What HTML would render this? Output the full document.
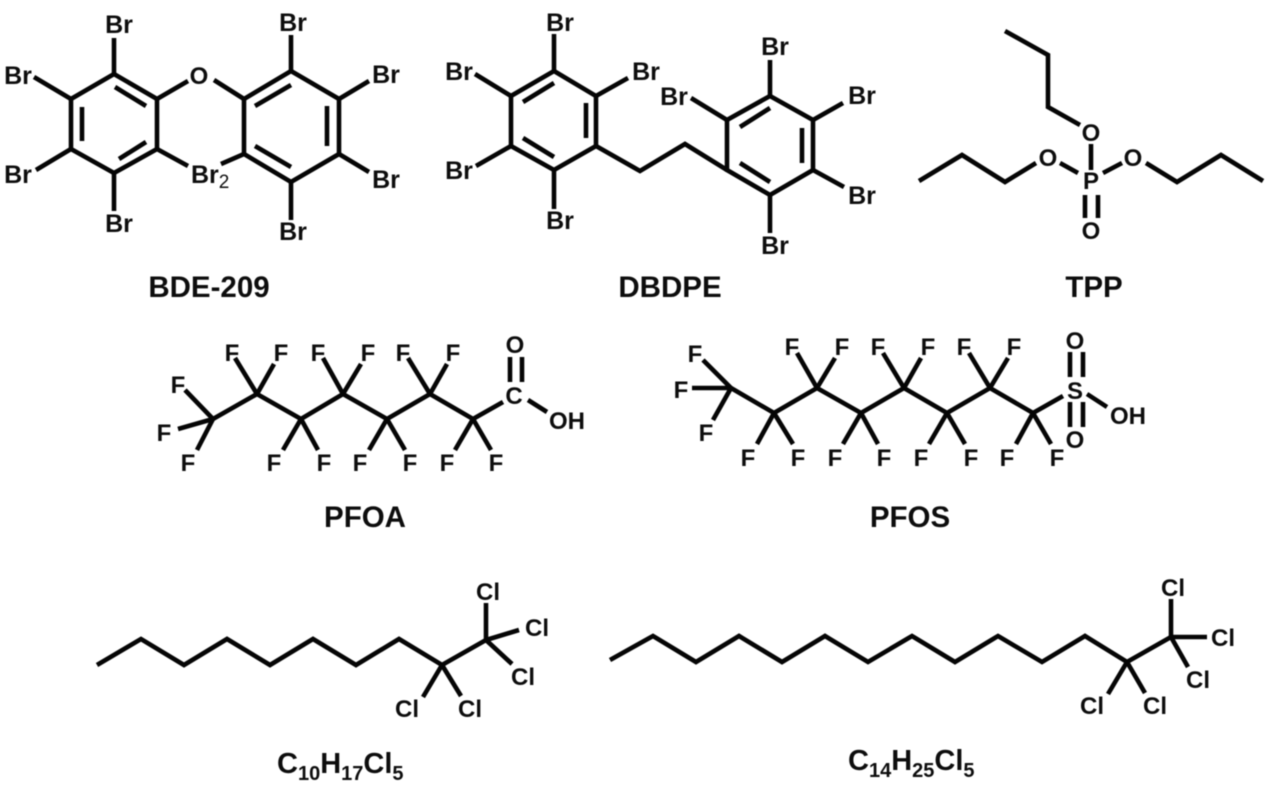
<!DOCTYPE html>
<html><head><meta charset="utf-8"><style>
html,body{margin:0;padding:0;background:#fff;width:1269px;height:793px;overflow:hidden}
svg{display:block;filter:blur(.4px)}
text{font-family:"Liberation Sans",sans-serif;font-weight:bold;fill:#0d0d0d}
.a{font-size:24px;text-anchor:middle;transform:translateY(1px)}
.b{font-size:25px;text-anchor:middle}
.t{font-size:29.5px;text-anchor:middle}
.s{font-size:20px}
path{fill:none;stroke:#050505;stroke-width:4.6;stroke-linejoin:miter;stroke-linecap:butt}
</style></head><body>
<svg width="1269" height="793" viewBox="0 0 1269 793" xmlns="http://www.w3.org/2000/svg">
<!-- BDE-209 -->
<path d="M114 74L157 99V149L114 173L71 149V99Z"/>
<path d="M115 87L146 106M82 107V141M146 142L119 159"/>
<path d="M114 74V38M71 99L34 77M71 149L36 170M114 173V211M157 149L188 166M157 99L188 81M214 80L244 99"/>
<path d="M291 71L339 99V154L291 182L244 154V99Z"/>
<path d="M255 106L291 85M327 106V146M255 146L291 167"/>
<path d="M244 154L221 164M291 71V35M339 99L369 81M339 154L369 172M291 182V220"/>
<text class="b" x="119" y="33">Br</text>
<text class="b" x="18" y="84">Br</text>
<text class="b" x="18" y="183">Br</text>
<text class="b" x="119" y="232">Br</text>
<text class="b" x="293" y="31">Br</text>
<text class="b" x="386" y="83">Br</text>
<text class="b" x="386" y="188">Br</text>
<text class="b" x="293" y="240">Br</text>
<text class="a" x="199" y="83">O</text>
<text x="191" y="183" style="font-size:25px">Br<tspan dy="5" style="font-size:19px;font-weight:normal">2</tspan></text>
<text class="t" x="209" y="297">BDE-209</text>
<!-- DBDPE -->
<path d="M554 71L596 96V146L554 170L511 146V96Z"/>
<path d="M554 83L523 102M586 103V138M523 138L554 157"/>
<path d="M554 71V34M596 96L628 78M511 96L475 74M511 146L476 166M554 170V209"/>
<path d="M596 146L640 171L685 144L727 170"/>
<path d="M770 96L813 120V170L770 195L727 170V120Z"/>
<path d="M770 108L740 127M802 128V163M740 163L770 182"/>
<path d="M770 96V60M813 120L843 103M813 170L844 187M770 195V233M727 120L691 98"/>
<text class="b" x="560" y="31">Br</text>
<text class="b" x="459" y="80">Br</text>
<text class="b" x="646" y="80">Br</text>
<text class="b" x="459" y="179">Br</text>
<text class="b" x="560" y="229">Br</text>
<text class="b" x="775" y="55">Br</text>
<text class="b" x="674" y="105">Br</text>
<text class="b" x="862" y="104">Br</text>
<text class="b" x="862" y="204">Br</text>
<text class="b" x="775" y="254">Br</text>
<text class="t" x="670" y="297">DBDPE</text>
<!-- TPP -->
<path d="M1005 31L1048 55V107L1080 125"/>
<path d="M1091 144V170M1060 163L1078 173M1103 173L1122 163M1085 195V218M1098 195V218"/>
<path d="M919 181L962 155L1005 182L1036 163M1146 163L1177 182L1221 155L1263 181"/>
<text class="a" x="1091" y="140">O</text>
<text class="a" x="1091" y="188">P</text>
<text class="a" x="1048" y="165">O</text>
<text class="a" x="1133" y="165">O</text>
<text class="a" x="1091" y="238">O</text>
<text class="t" x="1094" y="297">TPP</text>
<!-- PFOA -->
<path d="M213 419L257 394L301 419L343 394L387 419L430 394L473 419L503 402"/>
<path d="M510 357V382M522 357V382M528 400L547 412"/>
<path d="M257 394L235 358M257 394L274 364M343 394L323 358M343 394L361 364M430 394L408 358M430 394L447 364"/>
<path d="M213 419L185 390M213 419L178 429M213 419L197 450M301 419L283 450M301 419L318 450M387 419L369 450M387 419L405 450M473 419L455 450M473 419L491 450"/>
<text class="a" x="232" y="360">F</text><text class="a" x="281" y="360">F</text>
<text class="a" x="318" y="360">F</text><text class="a" x="368" y="360">F</text>
<text class="a" x="403" y="360">F</text><text class="a" x="453" y="360">F</text>
<text class="a" x="178" y="392">F</text><text class="a" x="164" y="440">F</text><text class="a" x="188" y="470">F</text>
<text class="a" x="274" y="470">F</text><text class="a" x="324" y="470">F</text>
<text class="a" x="360" y="470">F</text><text class="a" x="410" y="470">F</text>
<text class="a" x="447" y="470">F</text><text class="a" x="496" y="470">F</text>
<text class="a" x="514" y="403">C</text><text class="a" x="515" y="352">O</text>
<text class="a" x="567" y="428">OH</text>
<text class="t" x="365" y="527">PFOA</text>
<!-- PFOS -->
<path d="M731 388L774 413L817 388L861 413L904 388L947 413L990 388L1033 413L1063 396"/>
<path d="M1070 352V377M1083 352V377M1070 402V427M1083 402V427M1087 394L1107 407"/>
<path d="M731 388L703 360M731 388H692M731 388L713 420M817 388L797 353M817 388L835 358M904 388L883 353M904 388L921 358M990 388L969 353M990 388L1008 358"/>
<path d="M774 413L757 444M774 413L793 444M861 413L843 444M861 413L878 444M947 413L929 444M947 413L965 444M1033 413L1016 444M1033 413L1051 444"/>
<text class="a" x="695" y="361">F</text><text class="a" x="681" y="397">F</text><text class="a" x="706" y="440">F</text>
<text class="a" x="792" y="354">F</text><text class="a" x="842" y="354">F</text>
<text class="a" x="878" y="354">F</text><text class="a" x="928" y="354">F</text>
<text class="a" x="964" y="354">F</text><text class="a" x="1014" y="354">F</text>
<text class="a" x="748" y="465">F</text><text class="a" x="798" y="465">F</text>
<text class="a" x="835" y="465">F</text><text class="a" x="884" y="465">F</text>
<text class="a" x="921" y="465">F</text><text class="a" x="971" y="465">F</text>
<text class="a" x="1007" y="465">F</text><text class="a" x="1057" y="465">F</text>
<text class="a" x="1075" y="398">S</text><text class="a" x="1075" y="348">O</text><text class="a" x="1075" y="447">O</text>
<text class="a" x="1128" y="423">OH</text>
<text class="t" x="910" y="527">PFOS</text>
<!-- C10 -->
<path d="M97 665L141 639L184 665L227 639L270 665L313 639L356 665L399 639L442 665L486 640"/>
<path d="M486 640V603M486 640L519 630M486 640L512 664M442 665L423 697M442 665L461 696"/>
<text class="a" x="488" y="599">Cl</text><text class="a" x="537" y="635">Cl</text><text class="a" x="523" y="684">Cl</text>
<text class="a" x="407" y="716">Cl</text><text class="a" x="470" y="716">Cl</text>
<text x="277" y="773" style="font-size:29px">C<tspan class="s" dy="7">10</tspan><tspan dy="-7">H</tspan><tspan class="s" dy="7">17</tspan><tspan dy="-7">Cl</tspan><tspan class="s" dy="7">5</tspan></text>
<!-- C14 -->
<path d="M610 660L653 636L696 662L739 636L782 662L825 636L868 662L912 636L955 662L998 636L1042 662L1085 636L1127 662L1171 637"/>
<path d="M1171 637V599M1171 637H1207M1171 637L1188 667M1127 662L1108 694M1127 662L1145 693"/>
<text class="a" x="1173" y="595">Cl</text><text class="a" x="1223" y="645">Cl</text><text class="a" x="1198" y="687">Cl</text>
<text class="a" x="1092" y="713">Cl</text><text class="a" x="1155" y="713">Cl</text>
<text x="848" y="770" style="font-size:29px">C<tspan class="s" dy="7">14</tspan><tspan dy="-7">H</tspan><tspan class="s" dy="7">25</tspan><tspan dy="-7">Cl</tspan><tspan class="s" dy="7">5</tspan></text>
</svg>
</body></html>
